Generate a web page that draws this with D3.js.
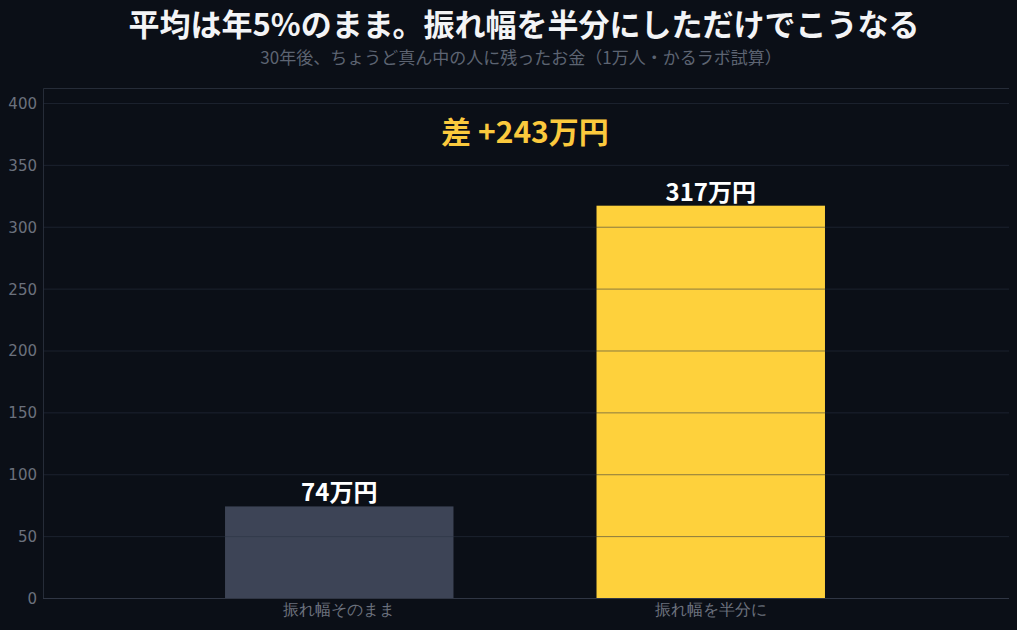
<!DOCTYPE html>
<html>
<head>
<meta charset="utf-8">
<script src="https://cdn.jsdelivr.net/npm/d3@7"></script>
<style>
  html, body { margin: 0; padding: 0; background: #0b0f17; }
  svg { display: block; font-family: "Noto Sans CJK JP", "Noto Sans", sans-serif; }
</style>
</head>
<body>
<svg width="1017" height="630"></svg>
<script>
// data
var categories = ["振れ幅そのまま", "振れ幅を半分に"];
var values = [74, 317];
var valueLabels = ["74万円", "317万円"];
var barColors = ["#3d4456", "#fed13c"];
var diffLabel = "差 +243万円";
var yTicks = [0, 50, 100, 150, 200, 250, 300, 350, 400];

var svg = d3.select("svg"),
    margin = {top: 88, right: 10, bottom: 32, left: 43},
    width = +svg.attr("width") - margin.left - margin.right,
    height = +svg.attr("height") - margin.top - margin.bottom;

// titles
svg.append("text")
    .attr("x", 524).attr("y", 36)
    .attr("text-anchor", "middle")
    .style("font-size", "31px").style("font-weight", "bold")
    .attr("fill", "#f3f4f6")
    .text("平均は年5%のまま。振れ幅を半分にしただけでこうなる");

svg.append("text")
    .attr("x", 521).attr("y", 64)
    .attr("text-anchor", "middle")
    .style("font-size", "17px")
    .attr("fill", "#5d6472")
    .text("30年後、ちょうど真ん中の人に残ったお金（1万人・かるラボ試算）");

var g = svg.append("g")
    .attr("transform", "translate(" + margin.left + "," + margin.top + ")");

var x = d3.scaleBand().range([0, width])
    .domain(categories)
    .paddingInner(0.385).paddingOuter(0.49);

var y = d3.scaleLinear().range([height, 0])
    .domain([0, d3.max(values) * 1.3]);

// bars
g.selectAll(".bar")
    .data(values)
    .enter().append("rect")
    .attr("class", "bar")
    .attr("x", function(d, i) { return x(categories[i]); })
    .attr("y", function(d) { return y(d); })
    .attr("width", x.bandwidth())
    .attr("height", function(d) { return height - y(d); })
    .attr("fill", function(d, i) { return barColors[i]; });

// grid on top of bars
var yAxis = g.append("g")
    .call(d3.axisLeft(y).tickValues(yTicks).tickSize(-width - 2).tickPadding(6));
yAxis.select(".domain").attr("stroke", "#262c38");
yAxis.selectAll(".tick line").attr("stroke", "#2a3142").attr("stroke-opacity", 0.55);
yAxis.selectAll(".tick text")
    .attr("fill", "#6b717d")
    .style("font-size", "15px")
    .style("font-family", "'DejaVu Sans', sans-serif")
    .attr("dy", "0.36em");

// x axis
var xAxis = g.append("g")
    .attr("transform", "translate(0," + height + ")")
    .call(d3.axisBottom(x).tickSize(0).tickPadding(6));
xAxis.select(".domain").attr("stroke", "#303644").attr("d", "M0,0.5H" + (width + 2));
xAxis.selectAll(".tick text")
    .attr("fill", "#6b717d")
    .style("font-size", "16px");

// value labels
g.selectAll(".vlabel")
    .data(values)
    .enter().append("text")
    .attr("class", "vlabel")
    .attr("x", function(d, i) { return x(categories[i]) + x.bandwidth() / 2; })
    .attr("y", function(d) { return y(d) - 5; })
    .attr("text-anchor", "middle")
    .attr("fill", "#ffffff")
    .style("font-size", "24px").style("font-weight", "bold")
    .text(function(d, i) { return valueLabels[i]; });

// difference annotation
g.append("text")
    .attr("x", width / 2)
    .attr("y", 55)
    .attr("text-anchor", "middle")
    .attr("fill", "#fbc93d")
    .style("font-size", "30px").style("font-weight", "bold")
    .text(diffLabel);
</script>
</body>
</html>
